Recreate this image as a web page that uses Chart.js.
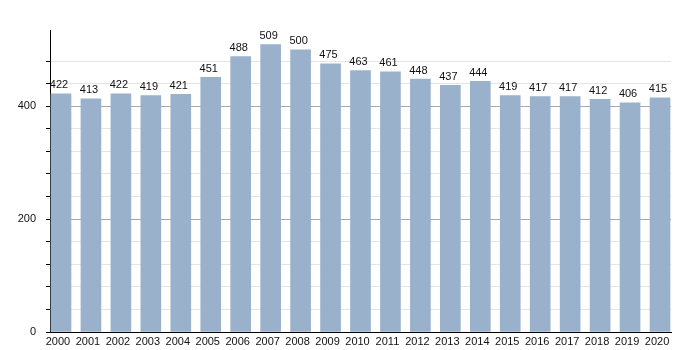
<!DOCTYPE html>
<html>
<head>
<meta charset="utf-8">
<script src="https://cdn.jsdelivr.net/npm/chart.js@4/dist/chart.umd.min.js"></script>
<style>
  html, body { margin: 0; padding: 0; background: #fff; }
  #wrap { width: 700px; height: 350px; }
</style>
</head>
<body>
<div id="wrap"><canvas id="c" width="700" height="350"></canvas></div>
<script>
// Yearly values, one bar per year
const years = ['2000','2001','2002','2003','2004','2005','2006','2007','2008','2009','2010',
               '2011','2012','2013','2014','2015','2016','2017','2018','2019','2020'];
const values = [422, 413, 422, 419, 421, 451, 488, 509, 500, 475, 463,
                461, 448, 437, 444, 419, 417, 417, 412, 406, 415];

const FONT = '"Liberation Sans", Arial, sans-serif';

// Value printed above each bar
const barValueLabels = {
  id: 'barValueLabels',
  afterDatasetsDraw(chart) {
    const ctx = chart.ctx;
    const meta = chart.getDatasetMeta(0);
    ctx.save();
    ctx.font = '11px ' + FONT;
    ctx.fillStyle = '#111';
    ctx.textAlign = 'center';
    ctx.textBaseline = 'bottom';
    meta.data.forEach((bar, i) => {
      ctx.fillText(String(values[i]), bar.x - 2, bar.y - 3);
    });
    ctx.restore();
  }
};

new Chart(document.getElementById('c'), {
  type: 'bar',
  data: {
    datasets: [{
      data: values.map((v, i) => ({ x: i, y: v })),
      backgroundColor: '#99b1cb',
      borderWidth: 0,
      barThickness: 20
    }]
  },
  options: {
    responsive: false,
    animation: false,
    layout: { padding: { top: 30, right: 29, bottom: 0, left: 0 } },
    plugins: { legend: { display: false }, tooltip: { enabled: false } },
    scales: {
      x: {
        type: 'linear',
        offset: false,
        min: -0.367,
        max: 20.367,
        afterBuildTicks(scale) {
          scale.ticks = years.map((_, i) => ({ value: i }));
        },
        afterFit(scale) { scale.height = 18; },
        grid: { display: false, drawTicks: false },
        border: { display: true, color: '#000', width: 1 },
        ticks: {
          autoSkip: false,
          maxRotation: 0,
          padding: 3,
          labelOffset: -3,
          color: '#111',
          font: { family: FONT, size: 11 },
          callback: (v) => years[v] ?? ''
        }
      },
      y: {
        min: 0,
        max: 535,
        afterBuildTicks(scale) {
          scale.ticks = scale.ticks.filter(t => t.value % 40 === 0);
        },
        afterFit(scale) { scale.width = 50; },
        border: { display: true, color: '#000', width: 1 },
        grid: {
          color: (c) => (c.tick && c.tick.value % 200 === 0) ? '#a8a8a8' : '#e4e4e4',
          tickColor: '#000',
          tickLength: 4
        },
        ticks: {
          stepSize: 40,
          padding: 10,
          color: '#111',
          font: { family: FONT, size: 11 },
          callback: (v) => (v % 200 === 0 ? String(v) : '')
        }
      }
    }
  },
  plugins: [barValueLabels]
});
</script>
</body>
</html>
